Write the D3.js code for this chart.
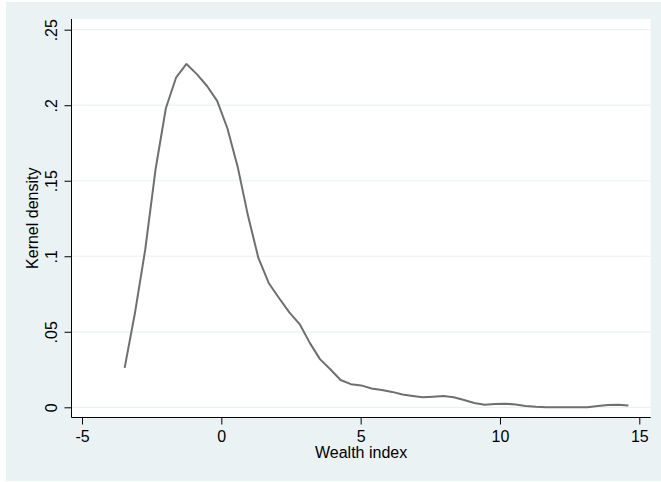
<!DOCTYPE html>
<html><head><meta charset="utf-8">
<script src="https://cdn.jsdelivr.net/npm/d3@7"></script>
<style>body{margin:0;background:#fff;} svg{display:block;}</style>
</head><body>
<svg id="c" width="661" height="482"></svg>
<script>
const wealth = [-3.47,-3.10,-2.73,-2.36,-1.99,-1.62,-1.25,-0.88,-0.52,-0.15,
  0.22,0.59,0.96,1.33,1.70,2.07,2.44,2.81,3.18,3.54,
  3.91,4.28,4.65,5.02,5.39,5.76,6.13,6.50,6.87,7.23,
  7.60,7.97,8.34,8.71,9.08,9.45,9.82,10.19,10.56,10.92,
  11.29,11.66,12.03,12.40,12.77,13.14,13.51,13.88,14.25,14.61];
const density = [0.0261,0.0624,0.1045,0.1576,0.1980,0.2185,0.2273,0.2206,0.2129,0.2029,
  0.1846,0.1590,0.1266,0.0989,0.0823,0.0724,0.0628,0.0551,0.0425,0.0319,
  0.0252,0.0181,0.0153,0.0145,0.0125,0.0115,0.0102,0.0085,0.0075,0.0066,
  0.0070,0.0075,0.0066,0.0048,0.0029,0.0017,0.0022,0.0024,0.0019,0.0009,
  0.0003,0.0001,0.0001,0.0001,0.0001,0.0001,0.0009,0.0015,0.0017,0.0012];
const xTicks = [-5,0,5,10,15];
const xTickLabels = ["-5","0","5","10","15"];
const yTicks = [0,0.05,0.1,0.15,0.2,0.25];
const yTickLabels = ["0",".05",".1",".15",".2",".25"];
const xTitle = "Wealth index";
const yTitle = "Kernel density";

const svg = d3.select("#c");
const font = "'Liberation Sans', Arial, sans-serif";
const plot = {l:71.5, r:650.7, t:19, b:417.5};

svg.append("rect").attr("x",6).attr("y",2).attr("width",655).attr("height",479).attr("fill","#eaf2f3");
svg.append("rect").attr("x",plot.l).attr("y",plot.t).attr("width",plot.r-plot.l).attr("height",plot.b-plot.t).attr("fill","#fff");

const x = d3.scaleLinear().domain([-5,15]).range([82,639.3]);
const y = d3.scaleLinear().domain([0,0.25]).range([407.3,29.7]);

// gridlines
svg.append("g").selectAll("line").data(yTicks).join("line")
  .attr("x1",plot.l).attr("x2",plot.r)
  .attr("y1",d=>y(d)).attr("y2",d=>y(d))
  .attr("stroke","#eaf2f3").attr("stroke-width",1.2);

// y axis
const yAxis = d3.axisLeft(y).tickValues(yTicks).tickFormat((d,i)=>yTickLabels[i]).tickSize(7).tickSizeOuter(0);
const gy = svg.append("g").attr("transform",`translate(${plot.l},0)`).call(yAxis);
gy.select(".domain").attr("d",`M0,${plot.t}V${plot.b}`).attr("stroke","#000");
gy.selectAll(".tick line").attr("stroke","#000");
gy.selectAll(".tick text").attr("font-family",font).attr("font-size",16).attr("fill","#000")
  .attr("transform","rotate(-90)").attr("x",0).attr("y",-15).attr("dy",0).attr("text-anchor","middle");

// x axis
const xAxis = d3.axisBottom(x).tickValues(xTicks).tickFormat((d,i)=>xTickLabels[i]).tickSize(7).tickSizeOuter(0);
const gx = svg.append("g").attr("transform",`translate(0,${plot.b})`).call(xAxis);
gx.select(".domain").attr("d",`M${plot.l},0H${plot.r}`).attr("stroke","#000");
gx.selectAll(".tick line").attr("stroke","#000");
gx.selectAll(".tick text").attr("font-family",font).attr("font-size",16).attr("fill","#000")
  .attr("y",24.5).attr("dy",0);

// titles
svg.append("text").attr("x",(plot.l+plot.r)/2).attr("y",457.5).attr("text-anchor","middle")
  .attr("font-family",font).attr("font-size",16).attr("fill","#000").text(xTitle);
svg.append("text").attr("transform",`translate(38,${(plot.t+plot.b)/2}) rotate(-90)`).attr("text-anchor","middle")
  .attr("font-family",font).attr("font-size",16).attr("fill","#000").text(yTitle);

// line
const pts = wealth.map((w,i)=>[w,density[i]]);
svg.append("path").datum(pts)
  .attr("d",d3.line().x(d=>x(d[0])).y(d=>y(d[1])))
  .attr("fill","none").attr("stroke","#6f6f6f").attr("stroke-width",2).attr("stroke-linejoin","round");
</script>
</body></html>
